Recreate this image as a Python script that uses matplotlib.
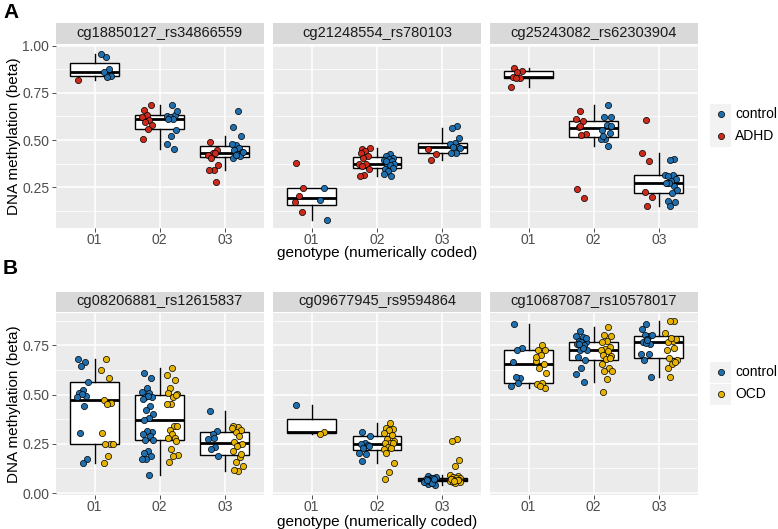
import numpy as np
import matplotlib
matplotlib.use("Agg")
import matplotlib.pyplot as plt

plt.rcParams['font.family'] = ['Liberation Sans', 'DejaVu Sans']

# ---------------- data ----------------
genotypes = ["01", "02", "03"]
titles_a = ["cg18850127_rs34866559", "cg21248554_rs780103", "cg25243082_rs62303904"]
titles_b = ["cg08206881_rs12615837", "cg09677945_rs9594864", "cg10687087_rs10578017"]
groups_a = ["control", "ADHD"]
groups_b = ["control", "OCD"]

# Row A, panel 1
a1_ctrl_d1 = [0.942, 0.956, 0.876, 0.858, 0.840, 0.836]
a1_case_d1 = [0.82]
a1_ctrl_d2 = [0.688, 0.626, 0.635, 0.621, 0.656, 0.609, 0.614, 0.551, 0.521, 0.477, 0.451]
a1_case_d2 = [0.661, 0.684, 0.635, 0.621, 0.604, 0.596, 0.579, 0.560, 0.504]
a1_ctrl_d3 = [0.656, 0.570, 0.521, 0.474, 0.477, 0.460, 0.447, 0.439, 0.425, 0.407, 0.416, 0.421, 0.439]
a1_case_d3 = [0.489, 0.447, 0.433, 0.421, 0.433, 0.407, 0.368, 0.340, 0.340, 0.279]
# Row A, panel 2
a2_ctrl_d1 = [0.246, 0.184, 0.077]
a2_case_d1 = [0.381, 0.246, 0.202, 0.170, 0.118]
a2_ctrl_d2 = [0.428, 0.416, 0.407, 0.398, 0.393, 0.389, 0.375, 0.372, 0.368, 0.346, 0.354, 0.337, 0.319, 0.311, 0.389]
a2_case_d2 = [0.451, 0.460, 0.442, 0.433, 0.416, 0.404, 0.375, 0.372, 0.363, 0.346, 0.316, 0.311]
a2_ctrl_d3 = [0.574, 0.565, 0.509, 0.486, 0.477, 0.463, 0.465, 0.460, 0.433, 0.430]
a2_case_d3 = [0.451, 0.428, 0.395]
# Row A, panel 3
a3_ctrl_d1 = []
a3_case_d1 = [0.881, 0.865, 0.862, 0.836, 0.830, 0.826, 0.780]
a3_ctrl_d2 = [0.688, 0.623, 0.623, 0.582, 0.556, 0.539, 0.504, 0.504, 0.468, 0.521, 0.577]
a3_case_d2 = [0.656, 0.609, 0.600, 0.570, 0.533, 0.525, 0.240, 0.196, 0.574]
a3_ctrl_d3 = [0.398, 0.393, 0.316, 0.316, 0.311, 0.293, 0.284, 0.275, 0.258, 0.275, 0.235, 0.218, 0.179, 0.174, 0.153, 0.275]
a3_case_d3 = [0.604, 0.433, 0.389, 0.228, 0.200, 0.153]

# Row B, panel 1
b1_ctrl_d1 = [0.680, 0.666, 0.648, 0.566, 0.524, 0.507, 0.494, 0.502, 0.490, 0.443, 0.306, 0.175, 0.155]
b1_case_d1 = [0.680, 0.624, 0.583, 0.474, 0.457, 0.453, 0.303, 0.247, 0.247, 0.247, 0.189, 0.155]
b1_ctrl_d2 = [0.611, 0.586, 0.532, 0.516, 0.507, 0.490, 0.490, 0.494, 0.477, 0.440, 0.423, 0.403, 0.381,
              0.373, 0.309, 0.314, 0.298, 0.289, 0.268, 0.268, 0.214, 0.206, 0.189, 0.175, 0.175, 0.092]
b1_case_d2 = [0.633, 0.599, 0.574, 0.536, 0.502, 0.490, 0.507, 0.498, 0.453, 0.453, 0.340, 0.320, 0.343,
              0.298, 0.281, 0.281, 0.222, 0.192, 0.189, 0.159, 0.264]
b1_ctrl_d3 = [0.415, 0.314, 0.298, 0.273, 0.236, 0.222, 0.189, 0.281]
b1_case_d3 = [0.336, 0.340, 0.320, 0.309, 0.331, 0.289, 0.259, 0.247, 0.239, 0.214, 0.181, 0.159, 0.135, 0.114, 0.119, 0.197]
# Row B, panel 2
b2_ctrl_d1 = [0.445]
b2_case_d1 = [0.309, 0.301]
b2_ctrl_d2 = [0.309, 0.289, 0.256, 0.248, 0.243, 0.231, 0.206, 0.197, 0.164, 0.239]
b2_case_d2 = [0.356, 0.331, 0.323, 0.320, 0.306, 0.293, 0.276, 0.264, 0.253, 0.256, 0.253, 0.236, 0.226,
              0.231, 0.206, 0.152, 0.105, 0.072]
b2_ctrl_d3 = [0.088, 0.080, 0.075, 0.070, 0.065, 0.060, 0.055, 0.050, 0.045, 0.040, 0.065, 0.070, 0.075,
              0.060, 0.058, 0.050, 0.068, 0.072]
b2_case_d3 = [0.273, 0.264, 0.169, 0.139, 0.090, 0.085, 0.080, 0.078, 0.075, 0.070, 0.068, 0.065, 0.062,
              0.060, 0.058, 0.055, 0.050, 0.072, 0.066, 0.063]
# Row B, panel 3
b3_ctrl_d1 = [0.859, 0.738, 0.728, 0.666, 0.583, 0.588, 0.544, 0.560]
b3_case_d1 = [0.750, 0.728, 0.725, 0.700, 0.670, 0.655, 0.638, 0.611, 0.561, 0.554, 0.532, 0.544, 0.690]
b3_ctrl_d2 = [0.822, 0.800, 0.792, 0.775, 0.767, 0.767, 0.758, 0.750, 0.725, 0.728, 0.738, 0.691, 0.675,
              0.638, 0.605, 0.566, 0.758, 0.788]
b3_case_d2 = [0.842, 0.805, 0.800, 0.775, 0.767, 0.742, 0.733, 0.728, 0.722, 0.700, 0.695, 0.683, 0.658,
              0.633, 0.621, 0.621, 0.578, 0.516, 0.688]
b3_ctrl_d3 = [0.859, 0.834, 0.800, 0.805, 0.805, 0.784, 0.767, 0.758, 0.762, 0.708, 0.705, 0.678, 0.588, 0.780]
b3_case_d3 = [0.876, 0.872, 0.812, 0.775, 0.767, 0.784, 0.788, 0.725, 0.738, 0.688, 0.678, 0.658, 0.638, 0.666, 0.588]

yticks_a = [0.25, 0.50, 0.75, 1.00]
yticks_b = [0.00, 0.25, 0.50, 0.75]

# ---------------- styling ----------------
col_ctrl = "#1F6FAE"
col_adhd = "#CC2A1A"
col_ocd = "#E6B400"
W, H = 778, 529
fig = plt.figure(figsize=(W / 100, H / 100), dpi=100)


def fr(x0, y0, x1, y1):
    return [x0 / W, 1 - y1 / H, (x1 - x0) / W, (y1 - y0) / H]


panel_x = [(55.5, 264.0), (272.5, 481.5), (489.5, 698.0)]

rows = [
    dict(titles=titles_a, yticks=yticks_a, ylim=(0.035, 1.003), ptop=45, pbot=228, stop=23, sbot=43.5,
         data=[[(a1_case_d1, a1_ctrl_d1), (a1_case_d2, a1_ctrl_d2), (a1_case_d3, a1_ctrl_d3)],
               [(a2_case_d1, a2_ctrl_d1), (a2_case_d2, a2_ctrl_d2), (a2_case_d3, a2_ctrl_d3)],
               [(a3_case_d1, a3_ctrl_d1), (a3_case_d2, a3_ctrl_d2), (a3_case_d3, a3_ctrl_d3)]],
         left_col=col_adhd, right_col=col_ctrl,
         leg=[(groups_a[0], col_ctrl), (groups_a[1], col_adhd)], leg_y=(114, 136),
         xlab_y=253, letter="A", letter_y=12),
    dict(titles=titles_b, yticks=yticks_b, ylim=(-0.01, 0.915), ptop=313, pbot=495, stop=291.5, sbot=311.5,
         data=[[(b1_ctrl_d1, b1_case_d1), (b1_ctrl_d2, b1_case_d2), (b1_ctrl_d3, b1_case_d3)],
               [(b2_ctrl_d1, b2_case_d1), (b2_ctrl_d2, b2_case_d2), (b2_ctrl_d3, b2_case_d3)],
               [(b3_ctrl_d1, b3_case_d1), (b3_ctrl_d2, b3_case_d2), (b3_ctrl_d3, b3_case_d3)]],
         left_col=col_ctrl, right_col=col_ocd,
         leg=[(groups_b[0], col_ctrl), (groups_b[1], col_ocd)], leg_y=(372, 394),
         xlab_y=522, letter="B", letter_y=269),
]


def jitter(n, width, phase):
    i = np.arange(n)
    return ((i * 0.6180339 + phase) % 1.0 - 0.5) * 2 * width


for r in rows:
    for p in range(3):
        x0, x1 = panel_x[p]
        ax = fig.add_axes(fr(x0, r["ptop"], x1, r["pbot"]))
        ax.set_facecolor("#EBEBEB")
        for s in ax.spines.values():
            s.set_visible(False)
        ax.set_xlim(0.4, 3.6)
        ax.set_ylim(*r["ylim"])
        yt = r["yticks"]
        minors = [yt[0] - 0.125] + [v + 0.125 for v in yt]
        for m in minors:
            ax.axhline(m, color="white", lw=0.55, zorder=0)
        for v in yt:
            ax.axhline(v, color="white", lw=1.1, zorder=0)
        for k in range(3):
            ax.axvline(k + 1, color="white", lw=1.1, zorder=0)
        ax.set_yticks(yt)
        ax.set_xticks([1, 2, 3])
        ax.set_xticklabels(genotypes)
        ax.tick_params(axis="both", length=3, width=0.6, color="#333333", labelcolor="#4D4D4D",
                       labelsize=10)
        ax.tick_params(axis="x", pad=0.5)
        ax.tick_params(axis="y", pad=1.5)
        if p == 0:
            ax.set_yticklabels([f"{v:.2f}" for v in yt])
        else:
            ax.tick_params(axis="y", length=0, labelleft=False)

        combined = [list(left) + list(right) for (left, right) in r["data"][p]]
        ax.boxplot(combined, positions=[1, 2, 3], widths=0.75, showfliers=False, showcaps=False,
                   patch_artist=True, manage_ticks=False,
                   boxprops=dict(facecolor="white", edgecolor="black", linewidth=1.0),
                   whiskerprops=dict(color="black", linewidth=1.0),
                   medianprops=dict(color="black", linewidth=2.0), zorder=2)
        for k, (left, right) in enumerate(r["data"][p]):
            for vals, off, col, ph in ((left, -0.19, r["left_col"], 0.13), (right, 0.19, r["right_col"], 0.41)):
                if len(vals) == 0:
                    continue
                xs = k + 1 + off + jitter(len(vals), 0.09, ph + 0.07 * k + 0.11 * p)
                ax.scatter(xs, vals, s=20, color=col, edgecolor="black", linewidth=0.5, zorder=3)

        # strip
        sax = fig.add_axes(fr(x0, r["stop"], x1, r["sbot"]))
        sax.set_facecolor("#D9D9D9")
        sax.set_xticks([]); sax.set_yticks([])
        for s in sax.spines.values():
            s.set_visible(False)
        sax.text(0.5, 0.5, r["titles"][p], ha="center", va="center", fontsize=10.5, color="#1A1A1A",
                 transform=sax.transAxes)

    # axis titles
    ymid = (r["ptop"] + r["pbot"]) / 2
    fig.text(14 / W, 1 - ymid / H, "DNA methylation (beta)", rotation=90, ha="center", va="center",
             fontsize=11, color="black")
    fig.text((panel_x[1][0] + panel_x[1][1]) / 2 / W, 1 - r["xlab_y"] / H, "genotype (numerically coded)",
             ha="center", va="center", fontsize=11, color="black")
    fig.text(3 / W, 1 - r["letter_y"] / H, r["letter"], ha="left", va="center", fontsize=15,
             fontweight="bold", color="black")

    # legend
    for (lab, col), ly in zip(r["leg"], r["leg_y"]):
        kax = fig.add_axes(fr(710, ly - 10.5, 731, ly + 10.5))
        kax.set_facecolor("#F2F2F2")
        kax.set_xticks([]); kax.set_yticks([])
        for s in kax.spines.values():
            s.set_visible(False)
        kax.set_xlim(0, 1); kax.set_ylim(0, 1)
        kax.scatter([0.5], [0.5], s=20, color=col, edgecolor="black", linewidth=0.5)
        fig.text(735 / W, 1 - ly / H, lab, ha="left", va="center", fontsize=10, color="black")

fig.savefig("out.png", dpi=100)
